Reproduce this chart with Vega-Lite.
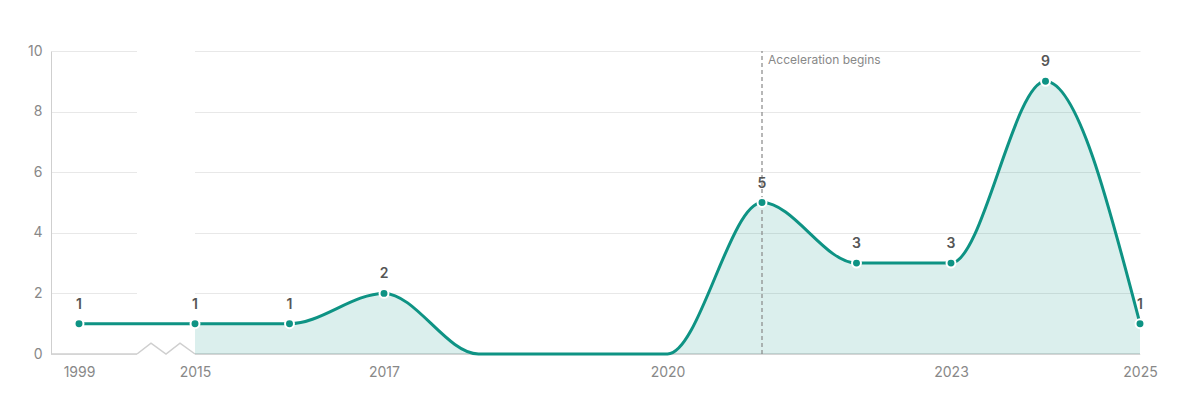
{
  "$schema": "https://vega.github.io/schema/vega-lite/v6.json",
  "width": 1089,
  "height": 303,
  "autosize": "none",
  "padding": {"left": 51, "top": 51, "right": 60, "bottom": 54},
  "config": {
    "font": "Inter",
    "view": {"stroke": null},
    "axis": {"labelFont": "Inter", "labelColor": "#888", "labelFontSize": 14, "ticks": false, "title": null}
  },
  "datasets": {
    "series": [
      {"year": 1999, "count": 1},
      {"year": 2015, "count": 1},
      {"year": 2016, "count": 1},
      {"year": 2017, "count": 2},
      {"year": 2018, "count": 0},
      {"year": 2019, "count": 0},
      {"year": 2020, "count": 0},
      {"year": 2021, "count": 5},
      {"year": 2022, "count": 3},
      {"year": 2023, "count": 3},
      {"year": 2024, "count": 9},
      {"year": 2025, "count": 1}
    ],
    "baseline": [
      {"from": 1995, "to": 2007},
      {"from": 2015, "to": 2025}
    ],
    "zigzag": [
      {"year": 2007, "v": 0},
      {"year": 2008.93, "v": 0.36},
      {"year": 2011, "v": 0},
      {"year": 2012.93, "v": 0.36},
      {"year": 2015, "v": 0}
    ],
    "marker": [
      {"year": 2021, "label": "Acceleration begins"}
    ]
  },
  "encoding": {
    "x": {
      "type": "quantitative",
      "scale": {"domain": [1995, 1999, 2015, 2025], "range": [0, 28, 144, 1089]},
      "axis": {"values": [1999, 2015, 2017, 2020, 2023, 2025], "format": "d", "domain": false, "grid": false, "labelPadding": 11, "labelFlush": false}
    },
    "y": {
      "type": "quantitative",
      "scale": {"domain": [0, 10], "nice": false},
      "axis": {"values": [0, 2, 4, 6, 8, 10], "grid": true, "gridColor": "#e8e8e8", "domain": true, "domainColor": "#cfcfcf", "labelPadding": 9}
    }
  },
  "layer": [
    {
      "data": {"values": [{"a": 2007, "b": 2015}]},
      "mark": {"type": "rect", "color": "white"},
      "encoding": {
        "x": {"field": "a"},
        "x2": {"field": "b"},
        "y": {"datum": -0.1},
        "y2": {"datum": 10.1}
      }
    },
    {
      "data": {"name": "baseline"},
      "mark": {"type": "rule", "color": "#cfcfcf", "strokeWidth": 1.5},
      "encoding": {
        "x": {"field": "from"},
        "x2": {"field": "to"},
        "y": {"datum": 0}
      }
    },
    {
      "data": {"name": "zigzag"},
      "mark": {"type": "line", "color": "#cfcfcf", "strokeWidth": 1.5},
      "encoding": {
        "x": {"field": "year"},
        "y": {"field": "v"}
      }
    },
    {
      "data": {"name": "series"},
      "transform": [{"filter": "datum.year >= 2015"}],
      "mark": {"type": "area", "interpolate": "monotone", "color": "#0e9384", "opacity": 0.15},
      "encoding": {
        "x": {"field": "year"},
        "y": {"field": "count"}
      }
    },
    {
      "data": {"name": "marker"},
      "mark": {"type": "rule", "color": "#888", "strokeDash": [4, 3], "strokeWidth": 1.2},
      "encoding": {
        "x": {"field": "year"},
        "y": {"datum": 0},
        "y2": {"datum": 10}
      }
    },
    {
      "data": {"name": "marker"},
      "mark": {"type": "text", "align": "left", "baseline": "middle", "dx": 6, "dy": 9, "fontSize": 12, "color": "#888"},
      "encoding": {
        "x": {"field": "year"},
        "y": {"datum": 10},
        "text": {"field": "label"}
      }
    },
    {
      "data": {"name": "series"},
      "mark": {"type": "line", "interpolate": "monotone", "color": "#0e9384", "strokeWidth": 3},
      "encoding": {
        "x": {"field": "year"},
        "y": {"field": "count"}
      }
    },
    {
      "data": {"name": "series"},
      "transform": [{"filter": "datum.count > 0"}],
      "mark": {"type": "point", "filled": true, "size": 80, "color": "#0e9384", "stroke": "white", "strokeWidth": 2, "opacity": 1},
      "encoding": {
        "x": {"field": "year"},
        "y": {"field": "count"}
      }
    },
    {
      "data": {"name": "series"},
      "transform": [{"filter": "datum.count > 0"}],
      "mark": {"type": "text", "baseline": "bottom", "dy": -12, "fontSize": 14, "fontWeight": 600, "color": "#555"},
      "encoding": {
        "x": {"field": "year"},
        "y": {"field": "count"},
        "text": {"field": "count"}
      }
    }
  ]
}
